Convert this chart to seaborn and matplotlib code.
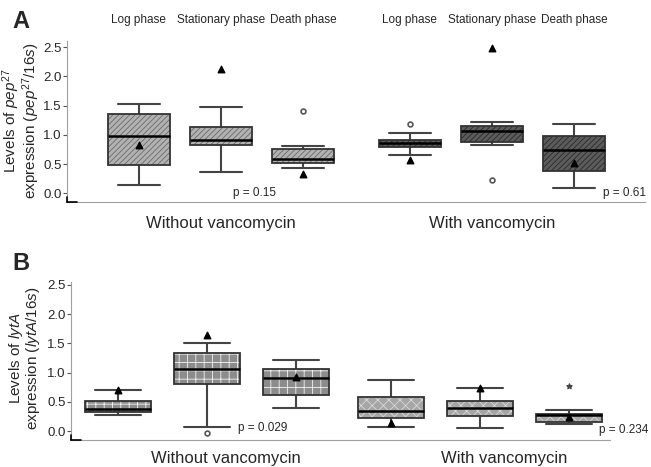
import numpy as np
import pandas as pd
import matplotlib.pyplot as plt
import seaborn as sns
from matplotlib.patches import PathPatch
from matplotlib.transforms import blended_transform_factory

sns.set_style("white")
plt.rcParams['font.family'] = ['Liberation Sans', 'DejaVu Sans']
plt.rcParams['mathtext.fontset'] = 'custom'
plt.rcParams['mathtext.rm'] = 'Liberation Sans'
plt.rcParams['mathtext.it'] = 'Liberation Sans:italic'
plt.rcParams['hatch.linewidth'] = 0.6

groups = ["Without vancomycin", "With vancomycin"]
phases = ["Log phase", "Stationary phase", "Death phase"]

# box order: without (log, stationary, death), then with (log, stationary, death)
# panel A - pep27/16s
a_lo = [0.15, 0.36, 0.43, 0.66, 0.82, 0.09]
a_q1 = [0.48, 0.82, 0.51, 0.79, 0.88, 0.38]
a_med = [0.98, 0.91, 0.58, 0.86, 1.07, 0.74]
a_q3 = [1.36, 1.14, 0.76, 0.91, 1.15, 0.98]
a_hi = [1.53, 1.47, 0.80, 1.03, 1.21, 1.19]
a_tri = [0.83, 2.13, 0.33, 0.57, 2.48, 0.51]
a_circ_box = [2, 3, 4]
a_circ_val = [1.40, 1.18, 0.23]
a_pvals = ["p = 0.15", "p = 0.61"]

# panel B - lytA/16s
b_lo = [0.28, 0.07, 0.39, 0.07, 0.06, 0.12]
b_q1 = [0.32, 0.81, 0.62, 0.23, 0.26, 0.15]
b_med = [0.37, 1.07, 0.91, 0.35, 0.40, 0.27]
b_q3 = [0.52, 1.33, 1.06, 0.58, 0.51, 0.29]
b_hi = [0.71, 1.51, 1.21, 0.87, 0.73, 0.36]
b_tri = [0.71, 1.65, 0.92, 0.13, 0.74, 0.24]
b_circ_box = [1]
b_circ_val = [-0.04]
b_star_box = [5]
b_star_val = [0.77]
b_pvals = ["p = 0.029", "p = 0.234"]


def make_df(lo, q1, med, q3, hi):
    # five values per box -> exact quartiles / whisker ends with whis=(0, 100)
    rows = []
    for i in range(6):
        for v in (lo[i], q1[i], med[i], q3[i], hi[i]):
            rows.append({"group": groups[i // 3], "phase": phases[i % 3], "value": v})
    return pd.DataFrame(rows)


def box_x(i, width):
    return i // 3 + width / 3 * (i % 3 - 1)


def draw_panel(ax, df, width, gap, faces, hcols, hatches):
    sns.boxplot(data=df, x="group", y="value", hue="phase", order=groups,
                hue_order=phases, width=width, gap=gap, whis=(0, 100),
                showfliers=False, legend=False, ax=ax, linewidth=1.3,
                linecolor="#3a3a3a",
                medianprops=dict(color="black", linewidth=1.8, zorder=4),
                whiskerprops=dict(color="#444444", linewidth=1.5),
                capprops=dict(color="#444444", linewidth=1.5))
    bw = width / 3 * (1 - gap)
    for c in ax.containers:
        for p in c.boxes:
            g = int(round(p.get_path().vertices[:, 0].mean()))
            p.set_facecolor(faces[g])
            p.set_edgecolor(hcols[g])
            p.set_hatch(hatches[g])
            p.set_linewidth(0)
            p.set_zorder(1.5)
            ax.add_patch(PathPatch(p.get_path(), transform=p.get_transform(),
                                   facecolor="none", edgecolor="#333333",
                                   linewidth=1.3, zorder=3))
        for ln in c.caps:
            xc = np.mean(ln.get_xdata())
            ln.set_xdata([xc - 0.34 * bw, xc + 0.34 * bw])


def style_axes(ax, xlim, ylim):
    ax.set_xlim(*xlim)
    ax.set_ylim(*ylim)
    ax.set_yticks([0, 0.5, 1.0, 1.5, 2.0, 2.5])
    ax.set_yticklabels(["0.0", "0.5", "1.0", "1.5", "2.0", "2.5"])
    for s in ["top", "right"]:
        ax.spines[s].set_visible(False)
    for s in ["left", "bottom"]:
        ax.spines[s].set_linestyle((0, (1, 1)))
        ax.spines[s].set_color("#a0a0a0")
        ax.spines[s].set_linewidth(0.8)
    ax.tick_params(axis="y", labelsize=9.5, length=3, width=0.8,
                   color="#555555", pad=1, left=True)
    ax.tick_params(axis="x", length=0, labelsize=12)
    ax.set_xlabel("")
    # small solid corner
    ax.plot([0, 0.018], [0, 0], transform=ax.transAxes, color="black",
            lw=1.2, clip_on=False, zorder=5)
    ax.plot([0, 0], [0, 0.03], transform=ax.transAxes, color="black",
            lw=1.2, clip_on=False, zorder=5)


fig = plt.figure(figsize=(6.51, 4.67), dpi=100)

# ---- panel A
wA, gapA = 0.908, 0.243
axA = fig.add_axes([67 / 651, 1 - 202 / 467, 578 / 651, 162 / 467])
draw_panel(axA, make_df(a_lo, a_q1, a_med, a_q3, a_hi), wA, gapA,
           ["#b2b2b2", "#5c5c5c"], ["#6a6a6a", "#2a2a2a"], ["//////", "//////"])
axA.scatter([box_x(i, wA) for i in range(6)], a_tri, marker="^", s=22,
            color="black", zorder=6)
axA.scatter([box_x(i, wA) for i in a_circ_box], a_circ_val, marker="o", s=12,
            facecolor="white", edgecolor="#555555", linewidth=1.2, zorder=6)
style_axes(axA, (-0.568, 1.565), (-0.149, 2.62))
axA.set_xticks([0, 1])
axA.set_xticklabels(groups)
axA.tick_params(axis="x", pad=10)
axA.set_ylabel("Levels of $\\it{pep}^{27}$\nexpression ($\\it{pep}^{27}$/$\\it{16s}$)",
               fontsize=11, linespacing=0.9)
axA.yaxis.set_label_coords(-0.043, 0.5)
trA = blended_transform_factory(axA.transData, axA.transAxes)
for i in range(6):
    axA.text(box_x(i, wA), 1.123, phases[i % 3], transform=trA, ha="center",
             va="center", fontsize=8.5)
axA.text(0.044, 0.0, a_pvals[0], ha="left", va="center", fontsize=8.5)
axA.text(1.41, 0.0, a_pvals[1], ha="left", va="center", fontsize=8.5)

# ---- panel B
wB, gapB = 0.978, 0.25
axB = fig.add_axes([71 / 651, 1 - 440 / 467, 539 / 651, 158 / 467])
draw_panel(axB, make_df(b_lo, b_q1, b_med, b_q3, b_hi), wB, gapB,
           ["#8c8c8c", "#a6a6a6"], ["#f2f2f2", "#d8d8d8"], ["++", "xxx"])
axB.scatter([box_x(i, wB) for i in range(6)], b_tri, marker="^", s=22,
            color="black", zorder=6)
axB.scatter([box_x(i, wB) for i in b_circ_box], b_circ_val, marker="o", s=12,
            facecolor="white", edgecolor="#555555", linewidth=1.2, zorder=6)
axB.scatter([box_x(i, wB) for i in b_star_box], b_star_val, marker="*", s=14,
            color="#444444", zorder=6)
style_axes(axB, (-0.498, 1.476), (-0.153, 2.55))
axB.set_xticks([0.07, 1.09])
axB.set_xticklabels(groups)
axB.tick_params(axis="x", pad=8)
axB.set_ylabel("Levels of $\\it{lytA}$\nexpression ($\\it{lytA}$/$\\it{16s}$)",
               fontsize=11, linespacing=0.9)
axB.yaxis.set_label_coords(-0.054, 0.52)
axB.text(0.114, 0.05, b_pvals[0], ha="left", va="center", fontsize=8.5)
axB.text(1.436, 0.02, b_pvals[1], ha="left", va="center", fontsize=8.5)

fig.text(12 / 651, 1 - 21 / 467, "A", fontsize=17, fontweight="bold", va="center")
fig.text(12 / 651, 1 - 263 / 467, "B", fontsize=17, fontweight="bold", va="center")

fig.savefig("out.png", dpi=100)
